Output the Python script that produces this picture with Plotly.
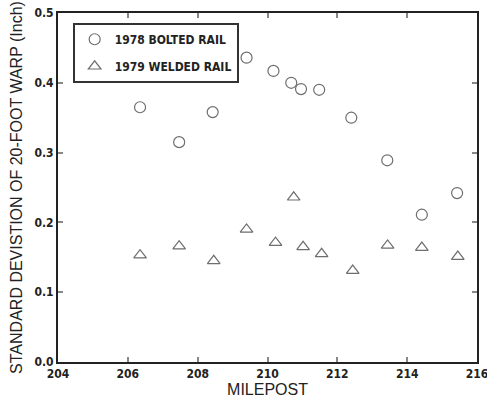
import plotly.graph_objects as go

bolted_mp = [206.35, 207.47, 208.43, 209.4, 210.17, 210.68, 210.96, 211.48, 212.4, 213.43, 214.42, 215.43]
bolted_sd = [0.365, 0.315, 0.358, 0.436, 0.417, 0.400, 0.391, 0.390, 0.350, 0.289, 0.211, 0.242]

welded_mp = [206.35, 207.47, 208.46, 209.4, 210.23, 210.75, 211.02, 211.55, 212.44, 213.44, 214.42, 215.45]
welded_sd = [0.153, 0.166, 0.145, 0.190, 0.171, 0.236, 0.165, 0.155, 0.131, 0.167, 0.164, 0.151]

x_ticks = [204, 206, 208, 210, 212, 214, 216]
y_ticks = [0.0, 0.1, 0.2, 0.3, 0.4, 0.5]

narrow = "DejaVu Sans Condensed, Liberation Sans Narrow, Arial Narrow, Liberation Sans, Arial"
mark_col = "#6e6e6e"

fig = go.Figure()
fig.add_trace(go.Scatter(
    x=bolted_mp, y=bolted_sd, mode="markers", name="1978 BOLTED RAIL",
    legendgroup="a",
    marker=dict(symbol="circle-open", size=11, color=mark_col, line=dict(width=1.2, color=mark_col)),
))
fig.add_trace(go.Scatter(
    x=welded_mp, y=welded_sd, mode="markers", name="1979 WELDED RAIL",
    legendgroup="b",
    marker=dict(symbol="triangle-up-open", size=11, color=mark_col, line=dict(width=1.2, color=mark_col)),
))

axis_common = dict(
    showline=True, linecolor="#222", linewidth=2, mirror="allticks",
    ticks="inside", ticklen=5, tickwidth=1.5, tickcolor="#888",
    showgrid=False, zeroline=False, automargin=False, ticklabeloverflow="allow",
    tickfont=dict(family=narrow, size=12, color="#222", weight="bold"),
)

fig.update_layout(
    width=487, height=405,
    margin=dict(l=58, r=10, t=13, b=43),
    paper_bgcolor="white", plot_bgcolor="white",
    showlegend=True,
    legend=dict(
        x=0.035, y=0.972, xanchor="left", yanchor="top",
        bordercolor="#333", borderwidth=2, bgcolor="white",
        font=dict(family=narrow, size=12, color="#222", weight="bold"),
        tracegroupgap=8, traceorder="grouped", itemwidth=30,
    ),
    xaxis=dict(
        range=[204, 216], tickvals=x_ticks, ticktext=[str(v) for v in x_ticks],
        title=dict(text="MILEPOST", font=dict(family="Liberation Sans, Arial", size=16, color="#222"), standoff=0),
        **axis_common,
    ),
    yaxis=dict(
        range=[0, 0.5], tickvals=y_ticks, ticktext=[f"{v:.1f}" for v in y_ticks],
        title=dict(text="STANDARD DEVISTION OF 20-FOOT WARP (Inch)", font=dict(family="Liberation Sans, Arial", size=16, color="#222"), standoff=8),
        **axis_common,
    ),
)

fig.write_html("out.html", config={"displayModeBar": False},
               post_script="document.body.style.margin='0';document.body.style.overflow='hidden';")
